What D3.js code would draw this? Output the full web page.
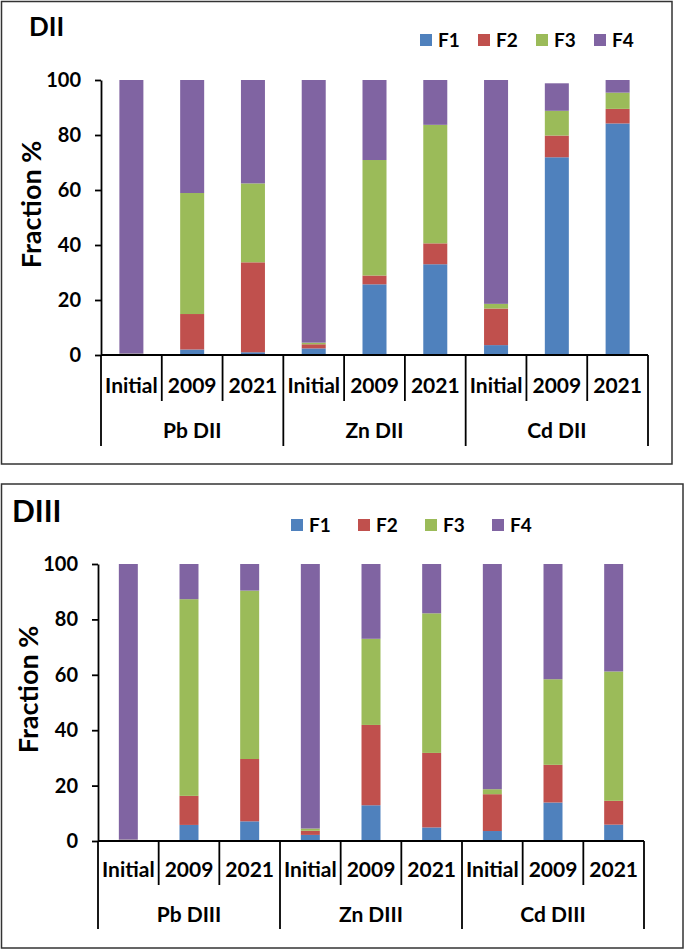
<!doctype html>
<html>
<head>
<meta charset="utf-8">
<title>Fractions DII / DIII</title>
<script src="https://d3js.org/d3.v7.min.js"></script>
<style>
  body { margin: 0; background: #fff; }
  svg text { font-family: Lato, "Open Sans", sans-serif; font-weight: bold; fill: #000; }
</style>
</head>
<body>
<svg id="chart" width="685" height="950"></svg>
<script>
// categories and groups (same for both panels)
const categories = ["Initial", "2009", "2021", "Initial", "2009", "2021", "Initial", "2009", "2021"];
const groupsDII = ["Pb DII", "Zn DII", "Cd DII"];
const groupsDIII = ["Pb DIII", "Zn DIII", "Cd DIII"];
const fractions = ["F1", "F2", "F3", "F4"];
const colors = ["#4f81bd", "#c0504d", "#9bbb59", "#8064a2"];
const yTicks = [0, 20, 40, 60, 80, 100];

// DII values (%)
const diiF1 = [0.2, 2.0, 1.0, 2.4, 25.7, 33.0, 3.6, 71.9, 84.2];
const diiF2 = [0.1, 12.9, 32.7, 1.5, 3.2, 7.6, 13.3, 7.9, 5.3];
const diiF3 = [0.2, 44.0, 28.7, 0.6, 42.0, 43.1, 1.7, 9.0, 5.9];
const diiF4 = [99.5, 41.1, 37.6, 95.5, 29.1, 16.3, 81.4, 10.0, 4.6];

// DIII values (%)
const diiiF1 = [0.3, 5.8, 7.1, 2.2, 12.9, 4.9, 3.6, 13.9, 5.9];
const diiiF2 = [0.1, 10.5, 22.5, 1.5, 29.0, 26.9, 13.3, 13.6, 8.6];
const diiiF3 = [0.1, 71.0, 60.8, 0.8, 31.1, 50.4, 1.8, 30.9, 46.7];
const diiiF4 = [99.5, 12.7, 9.6, 95.5, 27.0, 17.8, 81.3, 41.6, 38.8];

const svg = d3.select("#chart");

function drawPanel(cfg) {
  const g = svg.append("g");

  // frame
  g.append("rect")
    .attr("x", cfg.frame[0]).attr("y", cfg.frame[1])
    .attr("width", cfg.frame[2] - cfg.frame[0]).attr("height", cfg.frame[3] - cfg.frame[1])
    .attr("fill", "none").attr("stroke", "#333").attr("stroke-width", 1.5);

  // panel title
  g.append("text")
    .attr("x", cfg.titleX).attr("y", cfg.titleY)
    .style("font-size", cfg.titleSize + "px")
    .text(cfg.title);

  const table = categories.map((c, i) => ({
    idx: i, F1: cfg.values[0][i], F2: cfg.values[1][i], F3: cfg.values[2][i], F4: cfg.values[3][i]
  }));
  const stacked = d3.stack().keys(fractions)(table);

  const x = d3.scaleBand()
    .domain(d3.range(categories.length))
    .range([cfg.left, cfg.right])
    .paddingInner(cfg.pad)
    .paddingOuter(cfg.pad / 2);

  const y = d3.scaleLinear().domain([0, 100]).range([cfg.y0, cfg.y100]);

  // bars
  g.selectAll("g.series")
    .data(stacked)
    .join("g")
    .attr("class", "series")
    .attr("fill", (d, i) => colors[i])
    .selectAll("rect")
    .data(d => d)
    .join("rect")
    .attr("x", d => x(d.data.idx))
    .attr("width", x.bandwidth())
    .attr("y", d => y(d[1]))
    .attr("height", d => Math.max(0, y(d[0]) - y(d[1])));

  // y axis
  const yAxis = d3.axisLeft(y).tickValues(yTicks).tickSize(6).tickSizeOuter(0).tickPadding(14);
  const ya = g.append("g")
    .attr("transform", "translate(" + cfg.left + ",0)")
    .call(yAxis);
  ya.selectAll("path, line").attr("stroke", "#000").attr("stroke-width", 1.8);
  ya.selectAll("text").style("font-size", "20px").style("font-family", "Lato, sans-serif").style("font-weight", "bold");

  // x axis line
  g.append("line")
    .attr("x1", cfg.left).attr("x2", cfg.right)
    .attr("y1", y(0)).attr("y2", y(0))
    .attr("stroke", "#000").attr("stroke-width", 1.8);

  // separators: short ones between categories, long ones between groups
  const step = x.step();
  d3.range(categories.length + 1).forEach(i => {
    const xx = cfg.left + i * step;
    const long = i % 3 === 0;
    g.append("line")
      .attr("x1", xx).attr("x2", xx)
      .attr("y1", y(0)).attr("y2", long ? cfg.sepLong : cfg.sepShort)
      .attr("stroke", "#000").attr("stroke-width", 1.8);
  });

  // category labels
  g.selectAll("text.cat")
    .data(categories)
    .join("text")
    .attr("class", "cat")
    .attr("x", (d, i) => x(i) + x.bandwidth() / 2)
    .attr("y", cfg.catY)
    .attr("text-anchor", "middle")
    .style("font-size", "21px")
    .text(d => d);

  // group labels
  g.selectAll("text.grp")
    .data(cfg.groups)
    .join("text")
    .attr("class", "grp")
    .attr("x", (d, i) => cfg.left + (i * 3 + 1.5) * step)
    .attr("y", cfg.groupY)
    .attr("text-anchor", "middle")
    .style("font-size", "21px")
    .text(d => d);

  // y axis title
  g.append("text")
    .attr("transform", "translate(" + cfg.yTitleX + "," + ((cfg.y0 + cfg.y100) / 2 - 13) + ") rotate(-90)")
    .attr("text-anchor", "middle")
    .style("font-size", "27px")
    .text("Fraction %");

  // legend
  const lg = g.selectAll("g.leg")
    .data(fractions)
    .join("g")
    .attr("class", "leg")
    .attr("transform", (d, i) => "translate(" + (cfg.legX + i * cfg.legDx) + "," + cfg.legY + ")");
  lg.append("rect")
    .attr("width", 12).attr("height", 12)
    .attr("fill", (d, i) => colors[i]);
  lg.append("text")
    .attr("x", 18).attr("y", 12.5)
    .style("font-size", "19px")
    .text(d => d);
}

drawPanel({
  title: "DII", titleX: 29, titleY: 36, titleSize: 26,
  frame: [1.5, 1.5, 672, 464],
  left: 101, right: 648, y0: 355, y100: 80, pad: 0.605,
  sepShort: 401, sepLong: 446, catY: 393, groupY: 438,
  yTitleX: 41,
  legX: 420, legDx: 58, legY: 34,
  groups: groupsDII,
  values: [diiF1, diiF2, diiF3, diiF4]
});

drawPanel({
  title: "DIII", titleX: 12, titleY: 522, titleSize: 30,
  frame: [1.5, 484, 683, 948],
  left: 98, right: 644, y0: 841, y100: 564, pad: 0.687,
  sepShort: 885, sepLong: 929, catY: 877, groupY: 922,
  yTitleX: 38,
  legX: 291, legDx: 67, legY: 519,
  groups: groupsDIII,
  values: [diiiF1, diiiF2, diiiF3, diiiF4]
});
</script>
</body>
</html>
